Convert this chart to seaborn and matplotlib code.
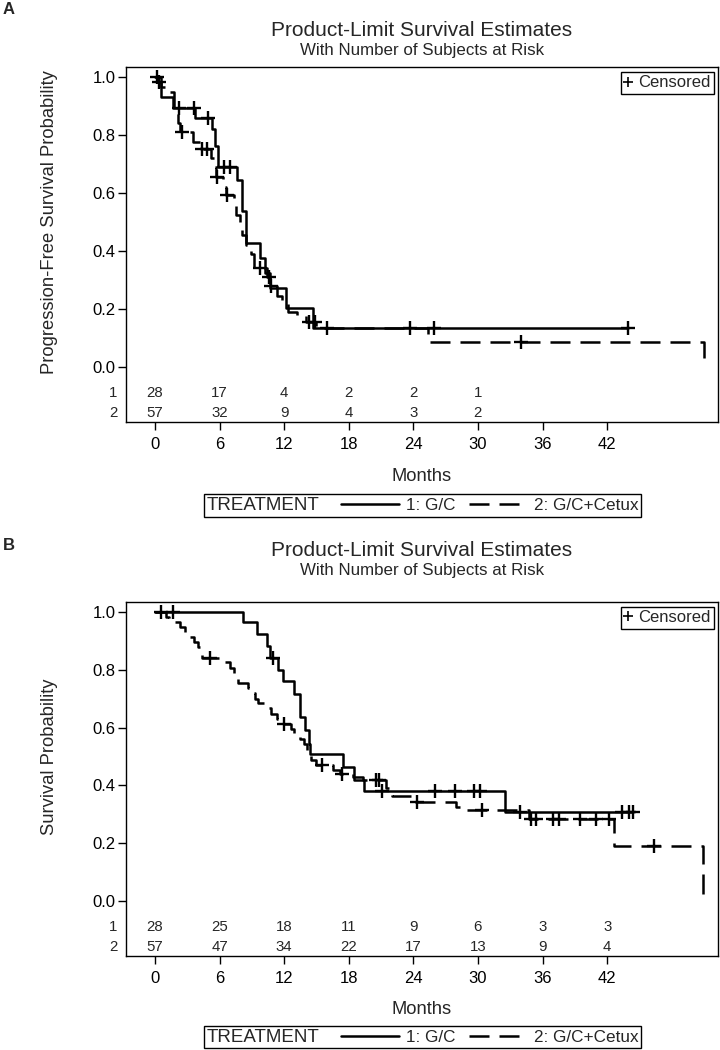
import matplotlib
matplotlib.use("Agg")
import numpy as np
import pandas as pd
import seaborn as sns
import matplotlib.pyplot as plt
from matplotlib.lines import Line2D
from matplotlib.offsetbox import HPacker
from matplotlib.transforms import blended_transform_factory

# ---------------- data ----------------
# Panel A: progression-free survival
A1_t = [0, 0.6, 1.7, 3.75, 5.3, 5.6, 5.9, 7.6, 8.06, 8.5, 9.76, 10.2, 10.7, 12.2, 14.7, 43.9]
A1_s = [1.0, 0.93, 0.893, 0.857, 0.82, 0.76, 0.69, 0.645, 0.536, 0.426, 0.375, 0.323, 0.271, 0.202, 0.133, 0.133]
A1_cens_t = [0.2, 2.2, 3.65, 4.9, 6.4, 7.0, 15.96, 23.7, 25.96, 43.9]
A1_cens_s = [1.0, 0.893, 0.893, 0.857, 0.69, 0.69, 0.133, 0.133, 0.133, 0.133]

A2_t = [0, 0.3, 0.6, 1.0, 1.8, 2.1, 2.3, 3.5, 4.2, 5.2, 5.5, 5.7, 6.3, 6.6, 7.3, 7.5, 7.9, 8.1,
        8.5, 8.9, 9.2, 10.4, 10.7, 11.3, 11.8, 12.4, 13.2, 14.0, 15.0, 25.4, 51.0]
A2_s = [1.0, 0.982, 0.965, 0.947, 0.877, 0.842, 0.81, 0.777, 0.75, 0.72, 0.69, 0.655, 0.62, 0.593,
        0.56, 0.525, 0.49, 0.455, 0.42, 0.39, 0.34, 0.31, 0.28, 0.245, 0.22, 0.19, 0.178, 0.155,
        0.133, 0.087, 0.0]
A2_cens_t = [0.4, 2.5, 4.4, 4.8, 5.8, 6.7, 9.8, 10.6, 10.8, 14.3, 14.9, 34.0]
A2_cens_s = [0.982, 0.81, 0.75, 0.75, 0.655, 0.593, 0.34, 0.31, 0.28, 0.155, 0.155, 0.087]

# Panel B: overall survival
B1_t = [0, 8.15, 9.45, 10.4, 10.7, 11.46, 11.9, 12.9, 13.5, 13.96, 14.27, 14.4, 17.5, 18.5, 19.4, 32.5, 44.4]
B1_s = [1.0, 0.964, 0.923, 0.883, 0.842, 0.80, 0.76, 0.716, 0.636, 0.59, 0.544, 0.509, 0.465, 0.42,
        0.379, 0.308, 0.308]
B1_cens_t = [0.6, 1.7, 11.0, 21.1, 26.0, 27.9, 29.6, 30.2, 33.9, 43.4, 44.0, 44.4]
B1_cens_s = [1.0, 1.0, 0.842, 0.379, 0.379, 0.379, 0.379, 0.379, 0.308, 0.308, 0.308, 0.308]

B2_t = [0, 1.0, 1.3, 2.3, 2.8, 3.2, 3.6, 4.0, 4.2, 4.4, 6.3, 7.0, 7.3, 7.5, 7.7, 8.6, 8.9, 9.3, 9.6,
        10.6, 10.8, 11.3, 11.7, 12.6, 12.9, 13.5, 13.8, 14.1, 14.3, 14.5, 15.0, 16.5, 17.2, 18.4,
        19.3, 21.5, 22.0, 24.0, 28.0, 29.0, 34.7, 42.6, 50.9]
B2_s = [1.0, 0.982, 0.965, 0.947, 0.93, 0.912, 0.895, 0.877, 0.86, 0.842, 0.825, 0.807, 0.79, 0.772,
        0.754, 0.737, 0.719, 0.70, 0.684, 0.666, 0.648, 0.63, 0.612, 0.594, 0.577, 0.56, 0.542,
        0.524, 0.506, 0.488, 0.47, 0.452, 0.44, 0.43, 0.42, 0.39, 0.362, 0.342, 0.325, 0.314,
        0.285, 0.19, 0.0]
B2_cens_t = [5.1, 12.0, 15.5, 17.4, 20.5, 20.8, 24.3, 30.4, 34.9, 35.4, 37.0, 37.5, 39.5, 41.0, 42.2, 46.4]
B2_cens_s = [0.842, 0.612, 0.47, 0.44, 0.42, 0.42, 0.342, 0.314, 0.285, 0.285, 0.285, 0.285, 0.285,
             0.285, 0.285, 0.19]

# Number at risk
riskA_t = [0, 6, 12, 18, 24, 30]
riskA_1 = [28, 17, 4, 2, 2, 1]
riskA_2 = [57, 32, 9, 4, 3, 2]
riskB_t = [0, 6, 12, 18, 24, 30, 36, 42]
riskB_1 = [28, 25, 18, 11, 9, 6, 3, 3]
riskB_2 = [57, 47, 34, 22, 17, 13, 9, 4]

x_ticks = [0, 6, 12, 18, 24, 30, 36, 42]
y_ticks = [0.0, 0.2, 0.4, 0.6, 0.8, 1.0]
group_labels = ["1: G/C", "2: G/C+Cetux"]
title = "Product-Limit Survival Estimates"
subtitle = "With Number of Subjects at Risk"

# ---------------- style ----------------
sns.set_style("ticks")
plt.rcParams["font.family"] = ["Liberation Sans", "DejaVu Sans"]
plt.rcParams["axes.linewidth"] = 1.0
plt.rcParams["axes.edgecolor"] = "black"

DASH = (0, (8, 4))
LW = 1.8

fig = plt.figure(figsize=(7.2, 10.5), dpi=100)
W, H = 720.0, 1050.0


def px_axes(left, top, right, bottom):
    return fig.add_axes([left / W, 1 - bottom / H, (right - left) / W, (bottom - top) / H])


def panel(ax, c1, c2, cens1, cens2, risk_t, r1, r2, ylabel):
    sns.lineplot(x=c1[0], y=c1[1], ax=ax, color="black", lw=LW, drawstyle="steps-post",
                 estimator=None, sort=False)
    sns.lineplot(x=c2[0], y=c2[1], ax=ax, color="black", lw=LW, drawstyle="steps-post",
                 estimator=None, sort=False, linestyle=DASH)
    for ct, cs in (cens1, cens2):
        sns.scatterplot(x=ct, y=cs, ax=ax, marker="+", s=90, color="black", linewidth=1.7,
                        zorder=4)
    ax.set_xlim(-2.69, 52.3)
    ax.set_ylim(-0.19, 1.034)
    ax.set_xticks(x_ticks)
    ax.set_xticklabels([str(v) for v in x_ticks])
    ax.set_yticks(y_ticks)
    ax.set_yticklabels([f"{v:.1f}" for v in y_ticks])
    for s in ax.spines.values():
        s.set_visible(True)
        s.set_color("black")
        s.set_linewidth(1.0)
    ax.tick_params(axis="both", direction="out", length=5.5, width=1.0, labelsize=12,
                   colors="black")
    ax.tick_params(axis="x", pad=5)
    ax.tick_params(axis="y", pad=2)
    ax.set_xlabel("Months", fontsize=13.2, va="center")
    ax.xaxis.set_label_coords(0.5, -54 / 355.0)
    ax.set_ylabel(ylabel, fontsize=13.2)
    tr = blended_transform_factory(ax.transAxes, ax.transData)
    ax.yaxis.set_label_coords(-0.115, 0.5, transform=tr)
    # number at risk table
    for yy, lab, vals in ((-0.091, "1", r1), (-0.158, "2", r2)):
        ax.text(-0.014, yy, lab, transform=tr, ha="right", va="center", fontsize=10.8)
        for t, v in zip(risk_t, vals):
            ax.text(t, yy, str(v), ha="center", va="center", fontsize=10.8)
    # censored legend
    h = Line2D([], [], marker="+", ls="none", color="black", markersize=7, markeredgewidth=1.2)
    lg = ax.legend([h], ["Censored"], loc="upper right",
                   bbox_to_anchor=(1 - 4 / 592.0, 1 - 5 / 355.0), borderaxespad=0,
                   frameon=True, fancybox=False, edgecolor="black", fontsize=12,
                   handlelength=0.5, handletextpad=0.35, borderpad=0.2, framealpha=1)
    lg.get_frame().set_linewidth(1.0)


def bottom_legend(ycenter):
    h1 = Line2D([], [], color="black", lw=LW)
    h2 = Line2D([], [], color="black", lw=LW, linestyle=DASH)
    leg = fig.legend([h1, h2], group_labels, loc="center",
                     bbox_to_anchor=(422.5 / W, 1 - ycenter / H), ncol=2, title="TREATMENT",
                     frameon=True, fancybox=False, edgecolor="black", fontsize=12.3,
                     title_fontsize=13.5, handlelength=3.4, columnspacing=0.8,
                     handletextpad=0.4, borderpad=0.15, framealpha=1)
    leg.get_frame().set_linewidth(1.0)
    try:
        fs = leg._fontsize
        box = HPacker(pad=leg.borderpad * fs, sep=1.3 * fs, align="center",
                      children=[leg._legend_title_box, leg._legend_handle_box])
        box.set_figure(fig)
        leg._legend_box = box
        box.set_offset(leg._findoffset)
    except Exception:
        pass
    return leg


axA = px_axes(126, 67, 718, 422)
panel(axA, (A1_t, A1_s), (A2_t, A2_s), (A1_cens_t, A1_cens_s), (A2_cens_t, A2_cens_s),
      riskA_t, riskA_1, riskA_2, "Progression-Free Survival Probability")
axB = px_axes(126, 602, 718, 956)
panel(axB, (B1_t, B1_s), (B2_t, B2_s), (B1_cens_t, B1_cens_s), (B2_cens_t, B2_cens_s),
      riskB_t, riskB_1, riskB_2, "Survival Probability")

for yt, ys, yl, lab in ((31, 50.5, 10, "A"), (551, 570, 545, "B")):
    fig.text(422 / W, 1 - yt / H, title, ha="center", va="center", fontsize=15)
    fig.text(422 / W, 1 - ys / H, subtitle, ha="center", va="center", fontsize=12.2)
    fig.text(3 / W, 1 - yl / H, lab, ha="left", va="center", fontsize=12, fontweight="bold")

bottom_legend(505.5)
bottom_legend(1037)

fig.savefig("out.png", dpi=100)
